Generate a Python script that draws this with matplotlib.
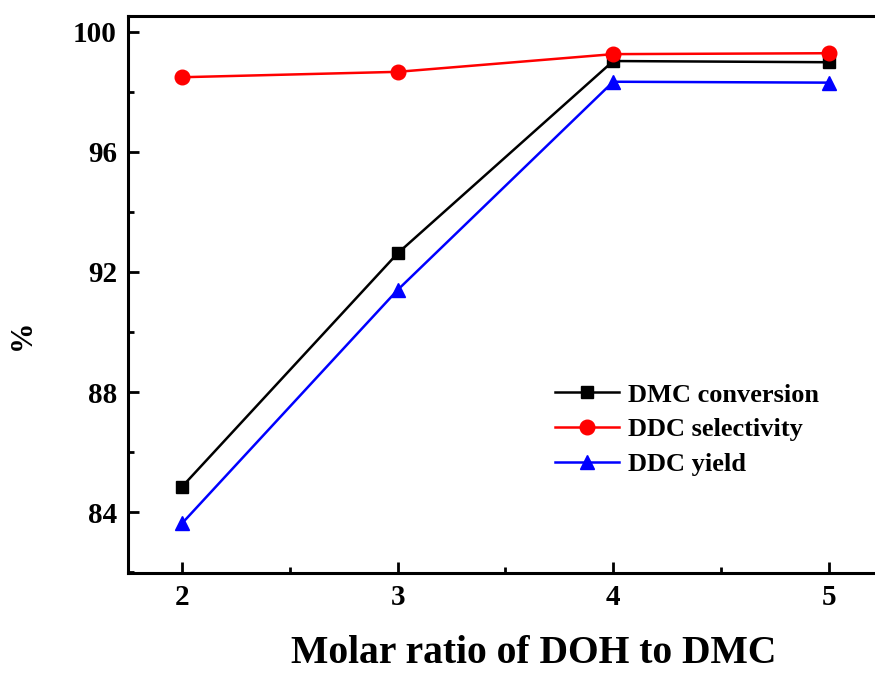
import matplotlib.pyplot as plt
from matplotlib.ticker import MultipleLocator

# molar ratio of DOH to DMC and the measured results (%)
ratios = [2, 3, 4, 5]
dmc_conversion = [84.84, 92.62, 99.03, 98.99]
ddc_selectivity = [98.49, 98.67, 99.26, 99.29]
ddc_yield = [83.62, 91.40, 98.34, 98.31]

plt.rcParams['font.family'] = ['Liberation Serif', 'DejaVu Serif']
plt.rcParams['font.weight'] = 'bold'

fig = plt.figure(figsize=(8.75, 6.73), dpi=100)
ax = fig.add_axes([0.1463, 0.1486, 0.8626, 0.8276])

ax.plot(ratios, dmc_conversion, color='black', marker='s', markersize=9,
        linewidth=1.8, label='DMC conversion')
ax.plot(ratios, ddc_selectivity, color='red', marker='o', markersize=10.5,
        linewidth=1.8, label='DDC selectivity')
ax.plot(ratios, ddc_yield, color='blue', marker='^', markersize=10.5,
        linewidth=1.8, label='DDC yield')

ax.set_xlim(1.75, 5.25)
ax.set_ylim(81.97, 100.53)
ax.xaxis.set_major_locator(MultipleLocator(1))
ax.xaxis.set_minor_locator(MultipleLocator(0.5))
ax.yaxis.set_major_locator(MultipleLocator(4))
ax.yaxis.set_minor_locator(MultipleLocator(2))

ax.tick_params(which='both', direction='in', width=2, labelsize=21, pad=8)
ax.tick_params(which='major', length=8)
ax.tick_params(which='minor', length=4)
for side in ['left', 'bottom', 'top', 'right']:
    ax.spines[side].set_linewidth(2.2)

ax.set_xlabel('Molar ratio of DOH to DMC', fontsize=28.5, fontweight='bold')
ax.xaxis.set_label_coords(0.538, -0.112)
ax.set_ylabel('%', fontsize=22, fontweight='bold')
ax.yaxis.set_label_coords(-0.121, 0.428)

ax.legend(loc='upper left', bbox_to_anchor=(0.566, 0.341), frameon=False,
          fontsize=19, borderpad=0, borderaxespad=0, handlelength=2.4,
          handletextpad=0.35, labelspacing=0.43)

fig.savefig('out.png', dpi=100)
